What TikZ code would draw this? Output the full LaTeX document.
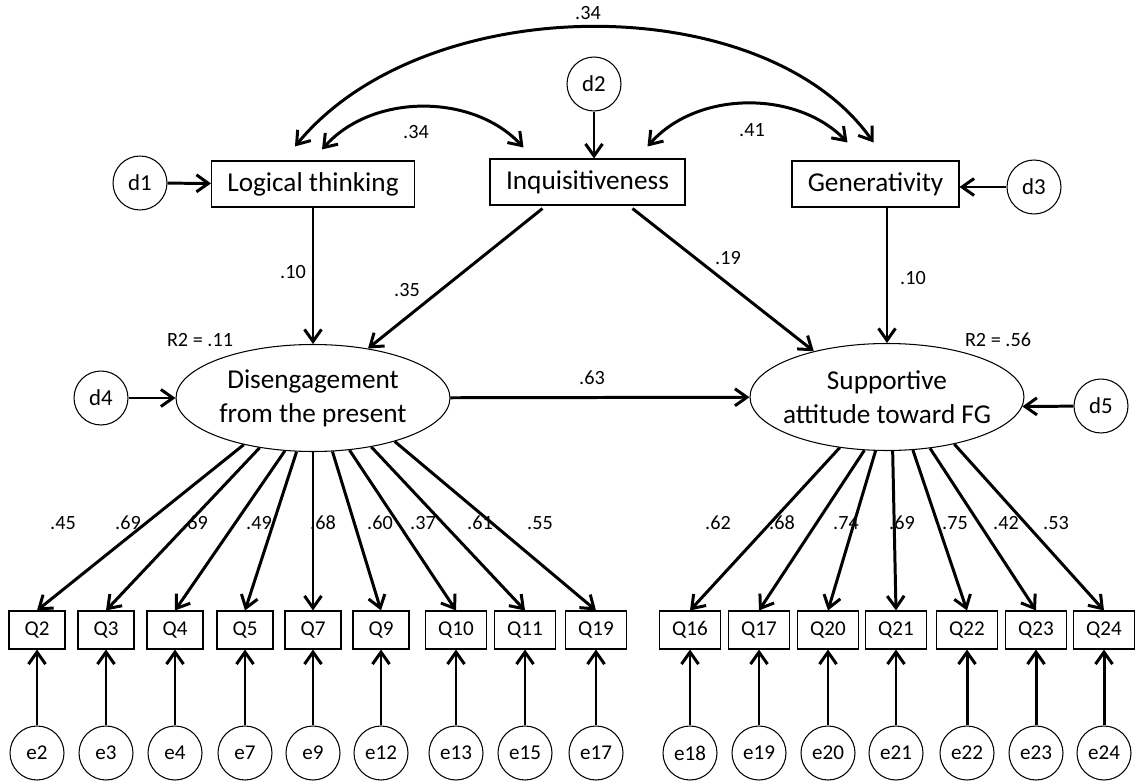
\documentclass[tikz,border=0pt]{standalone}
\usepackage{fontspec}
\setmainfont{Carlito}
\usetikzlibrary{arrows.meta, calc, shapes.geometric}

\begin{document}
\begin{tikzpicture}[x=0.02cm, y=-0.02cm,
  barb/.tip={Straight Barb[length=2.4mm,width=3.4mm]},
  arr/.style={-barb, line width=1.7pt},
  covar/.style={barb-barb, line width=1.7pt},
  obs/.style={draw, line width=0.6pt, minimum height=0.92cm, font=\fontsize{15.5}{19}\selectfont},
  item/.style={draw, line width=0.6pt, minimum width=1.12cm, minimum height=0.76cm, inner xsep=0.26cm, font=\fontsize{12}{14}\selectfont},
  err/.style={draw, circle, line width=0.6pt, minimum size=1.08cm, inner sep=0pt, font=\fontsize{12}{14}\selectfont},
  dist/.style={err, font=\fontsize{13}{15}\selectfont},
  latent/.style={draw, ellipse, line width=0.6pt, minimum width=5.48cm, minimum height=2.14cm, inner xsep=-0.3cm, inner ysep=0pt, align=center, font=\fontsize{15.5}{19.4}\selectfont},
  coef/.style={font=\fontsize{11.5}{13}\selectfont}]
\useasboundingbox (0,0) rectangle (1137,784);

% exogenous variables
\node[dist] (d1) at (140,183) {d1};
\node[obs, minimum width=4.06cm] (lt) at (313,184) {Logical thinking};
\node[dist] (d2) at (594,84) {d2};
\node[obs, minimum width=3.9cm] (inq) at (587.5,182) {Inquisitiveness};
\node[obs, minimum width=3.34cm] (gen) at (875.5,184) {Generativity};
\node[dist] (d3) at (1034,187) {d3};

% latent variables
\node[latent] (dis) at (313,398) {Disengagement\\from the present};
\node[latent] (sup) at (887,397) {Supportive\\attitude toward FG};
\node[dist] (d4) at (101,398) {d4};
\node[dist] (d5) at (1101,406) {d5};

\draw[arr] (d1) -- (lt);
\draw[arr] (d2) -- (d2 |- inq.north);
\draw[arr] (d3) -- (d3 -| gen.east);
\draw[arr] (d4) -- (dis);
\draw[arr] (d5) -- (sup.-4);
\draw[arr] (lt) -- (dis);
\draw[arr] (gen.south -| sup.north) -- (sup.north);
\draw[arr] ([xshift=-0.9cm,yshift=-0.06cm]inq.south) -- (dis.42);
\draw[arr] ([xshift=0.9cm,yshift=-0.06cm]inq.south) -- (sup.148);
\draw[arr] (dis) -- (sup);

% covariances
\draw[covar] ($(lt.north)+(-18,-14)$) .. controls (425,-12) and (765,-12) .. ($(gen.north)+(-2,-18)$);
\draw[covar] ($(lt.north)+(9,-11)$) .. controls (372,93) and (473,93) .. ($(inq.north)+(-64,-11)$);
\draw[covar] ($(inq.north)+(60,-12)$) .. controls (697,90) and (797,90) .. ($(gen.north)+(-28,-18)$);

\path (588,13) node[coef] (c1) {.34};
\path (416,132) node[coef] (c2) {.34};
\path (752,130) node[coef] (c3) {.41};
\path (293,272) node[coef] (b1) {.10};
\path (407,290) node[coef] (b2) {.35};
\path (728,258) node[coef] (b3) {.19};
\path (913,278) node[coef] (b4) {.10};
\path (592,378) node[coef] (b5) {.63};
\path (200,340) node[coef] (r1) {R2 = .11};
\path (998,340) node[coef] (r2) {R2 = .56};

% indicators
\foreach \q/\e/\x/\a in {2/2/37/-146, 3/3/106/-137, 4/4/175/-118, 5/7/245/-107, 7/9/313/-90, 9/12/381/-70, 10/13/456/-55, 11/15/525/-40, 19/17/596/-28} {
  \node[item] (q\q) at (\x,630) {Q\q};
  \node[err] (e\e) at (\x,753) {e\e};
  \draw[arr] (dis.\a) -- (q\q.north);
  \draw[arr] (e\e) -- (q\q);
}
\foreach \q/\e/\x/\a in {16/18/690/-133, 17/19/759/-113, 20/20/828/-102, 21/21/896/-84, 22/22/967/-64, 23/23/1036/-50, 24/24/1104/-35} {
  \node[item] (q\q) at (\x,630) {Q\q};
  \node[err] (e\e) at (\x,753) {e\e};
  \draw[arr] (sup.\a) -- (q\q.north);
  \draw[arr] (e\e) -- (q\q);
}
\foreach \w/\x [count=\i] in {.45/63, .69/128, .69/195, .49/259, .68/323, .60/380, .37/423, .61/480, .55/540, .62/718, .68/782, .74/846, .69/902, .75/955, .42/1006, .53/1056}
  \path (\x,523) node[coef] (w\i) {\w};
\end{tikzpicture}
\end{document}
